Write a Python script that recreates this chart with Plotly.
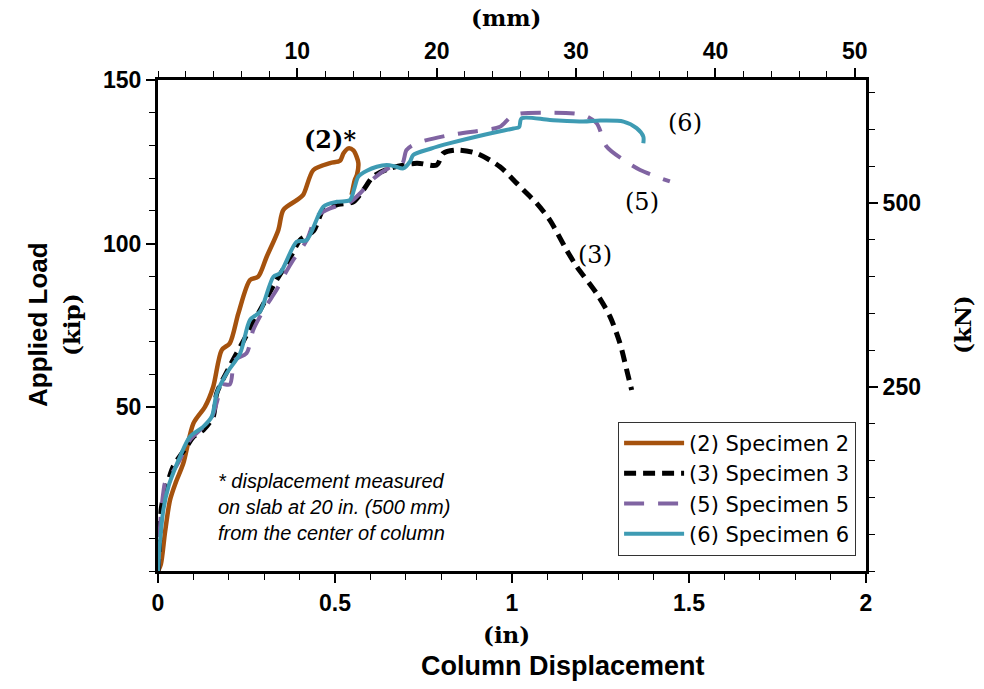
import plotly.graph_objects as go

# ---------------- data (in, kip) ----------------
spec2_x = [0, 0.008, 0.02, 0.034, 0.05, 0.0715, 0.10, 0.133, 0.156, 0.18, 0.203, 0.227, 0.26, 0.283, 0.307,
           0.34, 0.354, 0.392, 0.41, 0.439, 0.486, 0.514, 0.524, 0.538, 0.552, 0.561, 0.566, 0.562, 0.556, 0.547]
spec2_y = [0, 2, 12, 21.7, 27, 32.9, 45.1, 50.2, 56.3, 67.5, 69.6, 78.7, 88.9, 89.9, 96,
           104.2, 110.3, 113.3, 114.9, 122.5, 124.6, 125.3, 127.6, 129.1, 128.5, 126.6, 124.6, 121, 119.5, 114.9]

spec3_x = [0, 0.005, 0.01, 0.025, 0.043, 0.081, 0.1, 0.128, 0.156, 0.166, 0.2, 0.25, 0.29, 0.335, 0.37,
           0.401, 0.44, 0.467, 0.51, 0.552, 0.58, 0.608, 0.655, 0.731, 0.787, 0.806, 0.844, 0.9, 0.966, 1.013,
           1.051, 1.07, 1.107, 1.154, 1.183, 1.239, 1.277, 1.305, 1.324, 1.338]
spec3_y = [0, 10, 19.7, 26, 31.9, 38, 41, 43.1, 47.2, 54.3, 62, 72, 80, 88.9, 95,
           101.1, 104, 110.3, 112, 112.8, 116.4, 120.5, 123, 124.6, 124, 127.6, 128.6, 127.6, 123.5, 118.5,
           114.4, 112.3, 107.2, 98.1, 93, 84.8, 77.7, 69.6, 61.4, 55.3]

spec5_x = [0, 0.004, 0.008, 0.015, 0.02, 0.04, 0.062, 0.09, 0.128, 0.152, 0.17, 0.18, 0.203, 0.217, 0.25,
           0.269, 0.3, 0.335, 0.36, 0.382, 0.42, 0.448, 0.486, 0.54, 0.571, 0.61, 0.65, 0.69, 0.702, 0.731,
           0.825, 0.919, 0.966, 1.004, 1.088, 1.201, 1.239, 1.267, 1.315, 1.362, 1.446]
spec5_y = [0, 10, 17, 24, 27, 30, 34, 40, 44, 47, 53, 57, 57, 64.5, 66.5,
           73.6, 80, 85.9, 91, 95, 101, 108.3, 110.8, 112.5, 115.4, 120, 123, 124.5, 128.6, 130.7,
           133.2, 134.7, 135.7, 139.3, 140, 139.3, 136.8, 129.7, 125.6, 122.5, 119]

spec6_x = [0, 0.005, 0.015, 0.03, 0.045, 0.062, 0.09, 0.128, 0.152, 0.166, 0.194, 0.232, 0.26, 0.288, 0.326,
           0.345, 0.392, 0.42, 0.467, 0.505, 0.542, 0.556, 0.566, 0.59, 0.618, 0.646, 0.67, 0.693, 0.712, 0.721,
           0.77, 0.825, 0.919, 1.004, 1.02, 1.027, 1.107, 1.201, 1.249, 1.315, 1.352, 1.371, 1.371]
spec6_y = [0, 8, 18.6, 26, 30.5, 34.9, 41, 44.1, 47.2, 54.3, 60.4, 66.5, 76.7, 79.2, 89.9,
           91, 100.6, 101.1, 111.3, 112.8, 113.3, 117.4, 120.5, 122.3, 123.5, 124, 123.6, 123, 125.1, 127.1,
           129, 130.7, 133.2, 135.2, 135.6, 138.3, 137.8, 137.3, 137.6, 137.3, 135.3, 132.7, 130.7]

series_names = ["(2) Specimen 2", "(3) Specimen 3", "(5) Specimen 5", "(6) Specimen 6"]
curve_labels = ["<b>(2)*</b>", "(3)", "(5)", "(6)"]
label_x = [0.486, 1.234, 1.367, 1.489]
label_y = [131.7, 96.5, 112.7, 136.9]

x_ticks_in = [0, 0.5, 1, 1.5, 2]
y_ticks_kip = [50, 100, 150]
x_ticks_mm = [10, 20, 30, 40, 50]
y_ticks_kn = [250, 500]

X_MAX_IN = 2
Y_MAX_KIP = 150
IN_TO_MM = 25.4
KIP_TO_KN = 4.448

note_text = "* displacement measured<br>on slab at 20 in. (500 mm)<br>from the center of column"

# ---------------- figure ----------------
fig = go.Figure()

styles = [
    dict(color="#A5520E", width=4.5),
    dict(color="#000000", width=5, dash="12px,7px"),
    dict(color="#8064A2", width=4, dash="20px,14px"),
    dict(color="#3E9BB3", width=4),
]
for (xs, ys), name, st in zip([(spec2_x, spec2_y), (spec3_x, spec3_y), (spec5_x, spec5_y), (spec6_x, spec6_y)],
                              series_names, styles):
    fig.add_trace(go.Scatter(x=xs, y=ys, mode="lines", name=name, line=st, line_shape="spline",
                             line_smoothing=0.8, hoverinfo="skip"))

# invisible trace to materialise secondary axes
fig.add_trace(go.Scatter(x=[0], y=[0], xaxis="x2", yaxis="y2", mode="markers",
                         marker=dict(opacity=0), showlegend=False, hoverinfo="skip"))

tick_font = dict(family="Liberation Sans, Arial", size=23, color="black", weight="bold")
axis_common = dict(showgrid=False, zeroline=False, showline=True, linecolor="black", linewidth=3,
                   ticks="outside", ticklen=9, tickwidth=1.5, tickcolor="black", tickfont=tick_font)
minor_common = dict(ticks="outside", ticklen=6, tickwidth=1.2, tickcolor="black")

fig.update_layout(
    width=984, height=689,
    margin=dict(l=158, r=118, t=80, b=118),
    plot_bgcolor="white", paper_bgcolor="white",
    xaxis=dict(range=[0, X_MAX_IN], tickvals=x_ticks_in, ticktext=[f"{v:g}" for v in x_ticks_in],
               minor=dict(dtick=0.1, **minor_common), **axis_common),
    yaxis=dict(range=[0, Y_MAX_KIP], tickvals=y_ticks_kip,
               minor=dict(dtick=10, **minor_common), **axis_common),
    xaxis2=dict(range=[0, X_MAX_IN * IN_TO_MM], overlaying="x", side="top", tickvals=x_ticks_mm,
                minor=dict(dtick=2, **minor_common), **axis_common),
    yaxis2=dict(range=[0, Y_MAX_KIP * KIP_TO_KN], overlaying="y", side="right", tickvals=y_ticks_kn,
                minor=dict(dtick=50, **minor_common), **axis_common),
    legend=dict(x=0.986, y=0.031, xanchor="right", yanchor="bottom",
                bgcolor="white", bordercolor="#333333", borderwidth=1,
                font=dict(family="DejaVu Sans", size=21, color="black"),
                tracegroupgap=0, itemwidth=60),
    showlegend=True,
)

serif = "DejaVu Serif"
annos = []
for t, lx, ly in zip(curve_labels, label_x, label_y):
    annos.append(dict(x=lx, y=ly, xref="x", yref="y", text=t, showarrow=False,
                      font=dict(family=serif, size=24, color="black")))
annos += [
    dict(x=38, y=325, text="<b>Applied Load</b>", textangle=-90,
         font=dict(family="Liberation Sans, Arial", size=26, color="black")),
    dict(x=71, y=325, text="<b>(kip)</b>", textangle=-90,
         font=dict(family=serif, size=23, color="black")),
    dict(x=962, y=325, text="<b>(kN)</b>", textangle=-90,
         font=dict(family=serif, size=23, color="black")),
    dict(x=506, y=17, text="<b>(mm)</b>",
         font=dict(family=serif, size=23, color="black")),
    dict(x=506, y=634, text="<b>(in)</b>",
         font=dict(family=serif, size=23, color="black")),
    dict(x=563, y=666, text="<b>Column Displacement</b>",
         font=dict(family="Liberation Sans, Arial", size=27, color="black")),
    dict(x=216, y=507, text="<i>" + note_text + "</i>", xanchor="left", align="left",
         font=dict(family="Liberation Sans, Arial", size=20, color="black")),
]
# convert pixel placements for non-data annotations to paper coords
L, R, T, B = 158, 984 - 118, 80, 689 - 118
final = []
for a in annos:
    if a.get("xref") == "x":
        final.append(a)
        continue
    a = dict(a)
    a["xref"] = "paper"; a["yref"] = "paper"
    a["x"] = (a["x"] - L) / (R - L)
    a["y"] = (B - a["y"]) / (B - T)
    a["showarrow"] = False
    a.setdefault("xanchor", "center")
    a["yanchor"] = "middle"
    final.append(a)
fig.update_layout(annotations=final)

fig.write_html("out.html")
